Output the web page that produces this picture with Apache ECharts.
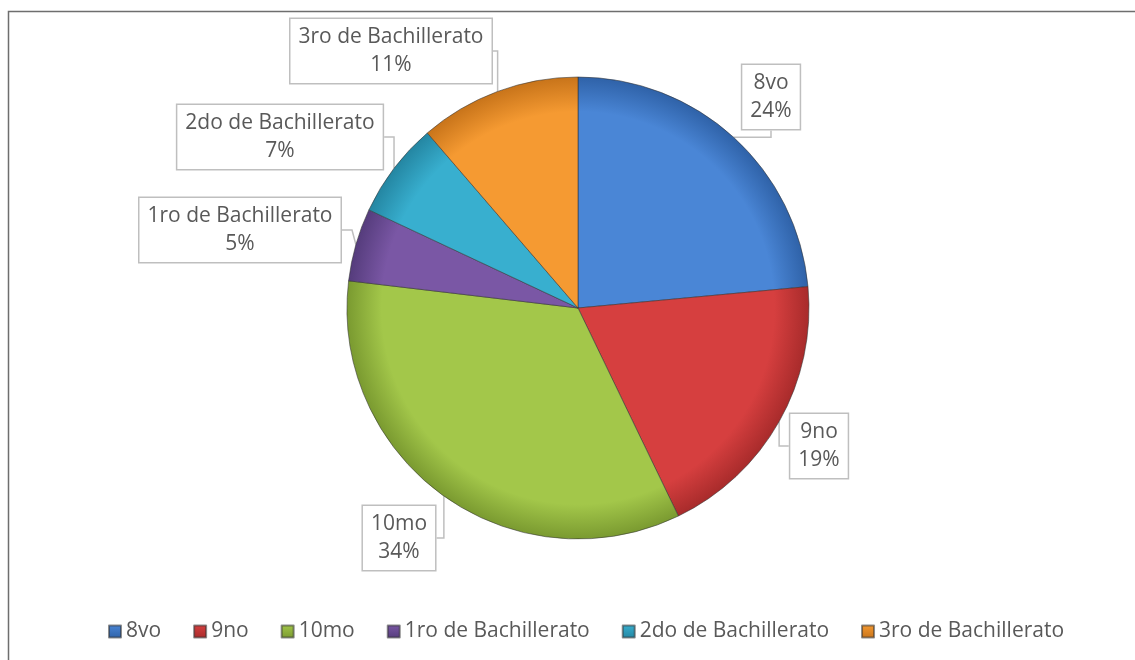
<!DOCTYPE html>
<html>
<head>
<meta charset="utf-8">
<script src="https://cdn.jsdelivr.net/npm/echarts@6/dist/echarts.min.js"></script>
<style>
  html, body { margin: 0; padding: 0; background: #fff; }
  #chart { width: 1135px; height: 660px; }
</style>
</head>
<body>
<div id="chart"></div>
<script>
// 数据
const categories = ['8vo', '9no', '10mo', '1ro de Bachillerato', '2do de Bachillerato', '3ro de Bachillerato'];
const values = [23.5, 19.3, 34.0, 5.1, 6.7, 11.3];
const colors = ['#4a86d6', '#d63f3f', '#a3c74a', '#7a57a5', '#38afcf', '#f59a32'];
const darkColors = ['#2f62a8', '#a82b2b', '#7a9a30', '#553c7c', '#2486a2', '#c8741a'];

// 标签框中心位置
const labelPos = [
  [771, 97],
  [819, 446],
  [399, 538],
  [240, 230],
  [280, 137],
  [391, 51]
];

const chart = echarts.init(document.getElementById('chart'));

const option = {
  animation: false,
  color: colors,
  graphic: [{
    type: 'rect',
    shape: { x: 8.5, y: 11.5, width: 1200, height: 700 },
    style: { fill: 'none', stroke: '#6e6e6e', lineWidth: 1.5 },
    silent: true
  }],
  legend: {
    top: 616,
    left: 103,
    itemWidth: 12,
    itemHeight: 12,
    itemGap: 32,
    icon: 'rect',
    textStyle: {
      fontFamily: 'Open Sans',
      fontSize: 21,
      color: '#595959'
    },
    data: categories.map((name, i) => ({
      name: name,
      itemStyle: {
        color: {
          type: 'linear', x: 0, y: 0, x2: 0, y2: 1,
          colorStops: [
            { offset: 0, color: colors[i] },
            { offset: 1, color: darkColors[i] }
          ]
        }
      }
    }))
  },
  series: [{
    type: 'pie',
    center: [578, 308],
    radius: 231,
    startAngle: 90,
    clockwise: true,
    percentPrecision: 0,
    data: categories.map((name, i) => ({
      name: name,
      value: values[i],
      itemStyle: {
        color: {
          type: 'radial', x: 578, y: 308, r: 231, global: true,
          colorStops: [
            { offset: 0, color: colors[i] },
            { offset: 0.85, color: colors[i] },
            { offset: 1, color: darkColors[i] }
          ]
        }
      }
    })),
    itemStyle: {
      borderColor: 'rgba(50,50,50,0.55)',
      borderWidth: 1
    },
    label: {
      show: true,
      formatter: '{b}\n{d}%',
      fontFamily: 'Open Sans',
      fontSize: 21,
      lineHeight: 28,
      color: '#595959',
      align: 'center',
      backgroundColor: '#fff',
      borderColor: '#bfbfbf',
      borderWidth: 1.5,
      padding: [4, 8]
    },
    labelLine: {
      show: true,
      length: 10,
      length2: 10,
      lineStyle: { color: '#bfbfbf', width: 1.5 }
    },
    labelLayout: function (params) {
      const p = labelPos[params.dataIndex];
      return {
        x: p[0],
        y: p[1],
        align: 'center',
        verticalAlign: 'middle'
      };
    },
    emphasis: { disabled: true }
  }]
};

chart.setOption(option);
</script>
</body>
</html>
